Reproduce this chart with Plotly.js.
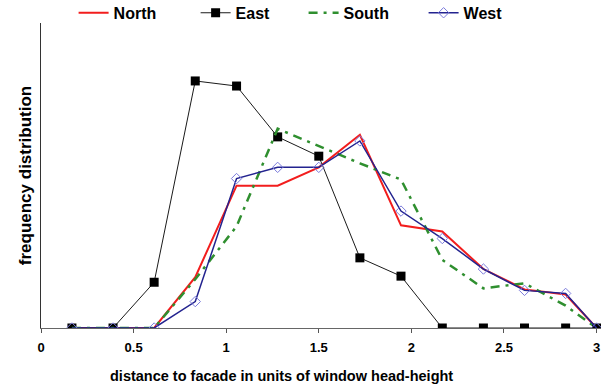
<!DOCTYPE html>
<html>
<head>
<meta charset="utf-8">
<script src="https://cdn.plot.ly/plotly-3.0.1.min.js"></script>
<style>
  html, body { margin: 0; padding: 0; background: #fff; }
  #chart { width: 601px; height: 389px; }
</style>
</head>
<body>
<div id="chart"></div>
<script>
// Distance to facade (in window head-heights), bin positions
const distance = [0.167, 0.389, 0.611, 0.833, 1.056, 1.278, 1.5, 1.722, 1.944, 2.167, 2.389, 2.611, 2.833, 3.0];

// Frequency distribution (%) per facade orientation
const north = [0, 0, 0, 5.0, 14.0, 14.0, 15.8, 19.0, 10.1, 9.5, 5.8, 3.8, 3.3, 0];
const east  = [0, 0, 4.5, 24.3, 23.8, 18.8, 16.9, 6.9, 5.1, 0, 0, 0, 0, 0];
const south = [0, 0, 0, 4.8, 10.0, 19.6, 17.9, 16.2, 14.6, 6.7, 3.9, 4.4, 2.2, 0];
const west  = [0, 0, 0, 2.6, 14.7, 15.8, 15.8, 18.4, 11.5, 8.8, 5.8, 3.7, 3.4, 0];

const seriesNames = ['North', 'East', 'South', 'West'];
const xTicks = [0, 0.5, 1, 1.5, 2, 2.5, 3];
const xTickText = ['0', '0.5', '1', '1.5', '2', '2.5', '3'];
const xTitle = 'distance to facade in units of window head-height';
const yTitle = 'frequency distribution';

const traces = [
  {
    x: distance, y: north, name: seriesNames[0], type: 'scatter', mode: 'lines',
    legend: 'legend',
    line: { color: '#f21d1d', width: 2 }
  },
  {
    x: distance, y: east, name: seriesNames[1], type: 'scatter', mode: 'lines+markers',
    legend: 'legend2',
    line: { color: '#1a1a1a', width: 1 },
    marker: { symbol: 'square', size: 9, color: '#000000' }
  },
  {
    x: distance, y: south, name: seriesNames[2], type: 'scatter', mode: 'lines',
    legend: 'legend3',
    line: { color: '#2f8f2f', width: 2.5, dash: '9px,6px,3px,6px' }
  },
  {
    x: distance, y: west, name: seriesNames[3], type: 'scatter', mode: 'lines+markers',
    legend: 'legend4',
    line: { color: '#23238f', width: 1.5 },
    marker: { symbol: 'diamond-open', size: 8, color: '#7b7bdc', line: { width: 1 } }
  }
];

// One single-entry legend per series, laid out in a row above the plot
function legendAt(x) {
  return {
    orientation: 'h',
    x: x, xanchor: 'left',
    y: 1.089, yanchor: 'top',
    font: { size: 16, weight: 'bold', color: '#000000' },
    bgcolor: 'rgba(0,0,0,0)'
  };
}

const layout = {
  width: 601,
  height: 389,
  margin: { l: 41, r: 0, t: 23, b: 61, autoexpand: false },
  paper_bgcolor: '#ffffff',
  plot_bgcolor: '#ffffff',
  font: { family: 'Liberation Sans, Arial, sans-serif', color: '#000000' },
  showlegend: true,
  legend: legendAt(0.0582),
  legend2: legendAt(0.2761),
  legend3: legendAt(0.4689),
  legend4: legendAt(0.6832),
  xaxis: {
    range: [0, 3.024],
    tickvals: xTicks,
    ticktext: xTickText,
    ticks: 'outside', ticklen: 4, tickcolor: '#555555', tickwidth: 1,
    showline: true, linecolor: '#666666', linewidth: 1,
    showgrid: false, zeroline: false,
    tickfont: { size: 13, weight: 'bold' },
    ticklabelstandoff: 3
  },
  yaxis: {
    range: [0, 30],
    showticklabels: false, ticks: '',
    showline: true, linecolor: '#333333', linewidth: 1,
    showgrid: false, zeroline: false,
    title: {
      text: yTitle,
      font: { size: 17, weight: 'bold' },
      standoff: 4
    }
  },
  annotations: [
    {
      text: xTitle,
      xref: 'paper', yref: 'paper',
      x: 0.4286, y: -0.157,
      xanchor: 'center', yanchor: 'middle',
      showarrow: false,
      font: { size: 14.5, weight: 'bold', color: '#000000' }
    }
  ]
};

Plotly.newPlot('chart', traces, layout, { displayModeBar: false, staticPlot: true });
</script>
</body>
</html>
